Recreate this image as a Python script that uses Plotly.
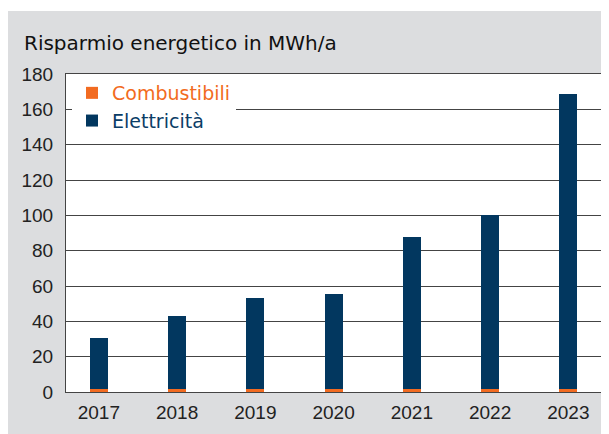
import plotly.graph_objects as go

years = ["2017", "2018", "2019", "2020", "2021", "2022", "2023"]
combustibili = [1.7, 1.7, 1.7, 1.7, 1.7, 1.7, 1.7]
elettricita = [29.0, 41.5, 51.7, 54.0, 86.2, 98.3, 167.2]
y_ticks = [0, 20, 40, 60, 80, 100, 120, 140, 160, 180]

ORANGE = "#f26b21"
NAVY = "#02375f"
GRAY = "#dcdddf"

fig = go.Figure()
fig.add_trace(go.Bar(
    x=years, y=combustibili, width=0.23,
    name="<span style='color:%s'>Combustibili</span>" % ORANGE,
    marker=dict(color=ORANGE, line=dict(width=0)),
))
fig.add_trace(go.Bar(
    x=years, y=elettricita, width=0.23,
    name="<span style='color:%s'>Elettricità</span>" % "#0b3d66",
    marker=dict(color=NAVY, line=dict(width=0)),
))

# the page body adds an 8px offset; figure coordinates below are relative to it
W, H = 609, 434
L, R, T, B = 58, 15, 66, 50
PW, PH = W - L - R, H - T - B

fig.update_layout(
    width=W, height=H,
    barmode="stack",
    margin=dict(l=L, r=R, t=T, b=B),
    paper_bgcolor=GRAY,
    plot_bgcolor="white",
    showlegend=True,
    legend=dict(
        x=(64 - L) / PW, y=1.0, xanchor="left", yanchor="top",
        bgcolor="white", borderwidth=0, traceorder="normal",
        font=dict(family="DejaVu Sans", size=19),
        itemwidth=30,
    ),
    annotations=[dict(
        text="Risparmio energetico in MWh/a",
        xref="paper", yref="paper",
        x=(14 - L) / PW, y=1 + (T - 35) / PH,
        xanchor="left", yanchor="middle", showarrow=False,
        font=dict(family="DejaVu Sans", size=20, color="#111111"),
    )],
    shapes=[
        dict(type="rect", xref="paper", yref="paper",
             x0=-L / PW - 0.01, x1=1 + R / PW + 0.01,
             y0=1 + (T - 3) / PH, y1=1 + T / PH + 0.01,
             fillcolor="white", line=dict(width=0), layer="above"),
    ],
    xaxis=dict(
        type="category", range=[-0.42, 6.43],
        showgrid=False, showline=True, linecolor="#444444", linewidth=1,
        mirror=True, ticks="",
        tickfont=dict(family="Liberation Sans", size=19, color="#222222"),
        ticklabelstandoff=3,
    ),
    yaxis=dict(
        range=[0, 180], tickvals=y_ticks,
        showgrid=True, gridcolor="#444444", gridwidth=1,
        showline=True, linecolor="#444444", linewidth=1, mirror=True,
        zeroline=False, ticks="",
        tickfont=dict(family="Liberation Sans", size=19, color="#222222"),
        ticklabelstandoff=8,
    ),
)

fig.write_html("out.html")
